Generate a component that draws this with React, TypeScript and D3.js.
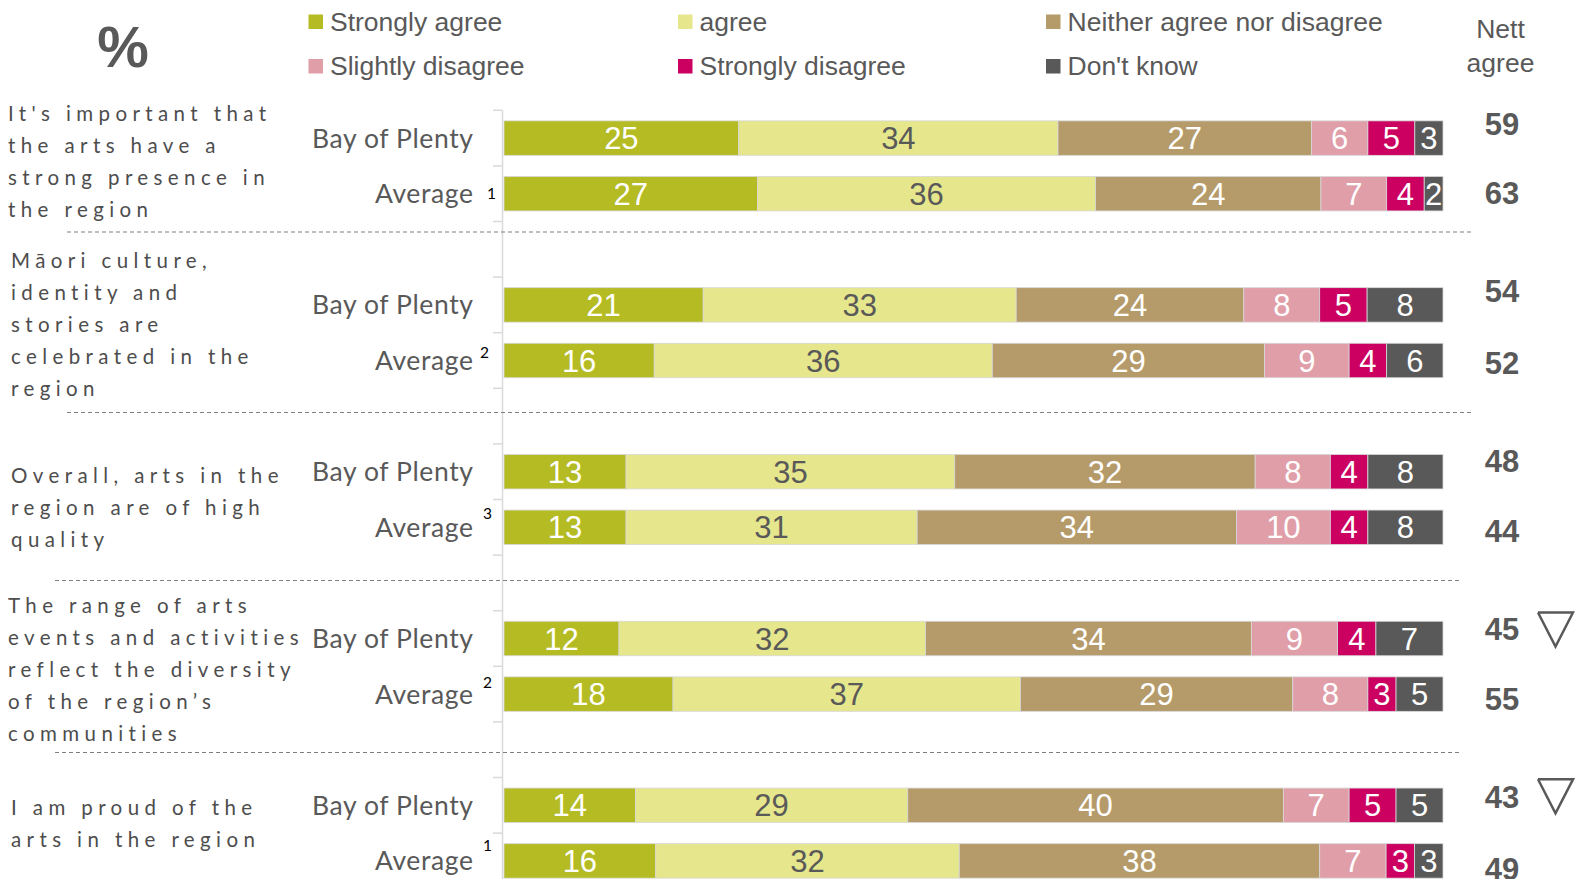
import React from "react";
import * as d3 from "d3";

const categories = ["Strongly agree", "agree", "Neither agree nor disagree", "Slightly disagree", "Strongly disagree", "Don't know"];
const colors = ["#b5bb23", "#e6e68c", "#b59b6a", "#e09ea9", "#cc0060", "#595959"];
const valueColors = ["#ffffff", "#595959", "#ffffff", "#ffffff", "#ffffff", "#ffffff"];

const statements = [
  ["It's important that", "the arts have a", "strong presence in", "the region"],
  ["Māori culture,", "identity and", "stories are", "celebrated in the", "region"],
  ["Overall, arts in the", "region are of high", "quality"],
  ["The range of arts", "events and activities", "reflect the diversity", "of the region’s", "communities"],
  ["I am proud of the", "arts in the region"],
];
const rowNames = ["Bay of Plenty", "Average"];
const footnotes = ["1", "2", "3", "2", "1"];

const bopValues = [
  [25, 34, 27, 6, 5, 3],
  [21, 33, 24, 8, 5, 8],
  [13, 35, 32, 8, 4, 8],
  [12, 32, 34, 9, 4, 7],
  [14, 29, 40, 7, 5, 5],
];
const avgValues = [
  [27, 36, 24, 7, 4, 2],
  [16, 36, 29, 9, 4, 6],
  [13, 31, 34, 10, 4, 8],
  [18, 37, 29, 8, 3, 5],
  [16, 32, 38, 7, 3, 3],
];
const bopNett = [59, 54, 48, 45, 43];
const avgNett = [63, 52, 44, 55, 49];
const bopLower = [false, false, false, true, true];

// layout
const W = 1575;
const H = 879;
const barX0 = 504;
const barX1 = 1443;
const statementX = [8, 11, 11, 8, 11];
const statementY0 = [121, 268, 483, 613, 815];
const supX = [487, 480, 483, 483, 483];
const supDy = [-5, -13, -18, -16, -20];
const nettDyBop = [-14.5, -14, -10.5, -10, -8];
const nettDyAvg = [-0.5, 2, 4, 5, 8];
const sepLines = [
  { y: 232, x0: 67, x1: 1473 },
  { y: 412.5, x0: 67, x1: 1473 },
  { y: 580.5, x0: 55, x1: 1462 },
  { y: 752.5, x0: 55, x1: 1462 },
];

const GRAY = "#595959";
const ARIAL = "'Liberation Sans', Arial, sans-serif";
const CAL = "Lato, 'Open Sans', sans-serif";

export default function App() {
  const slots: string[] = [];
  statements.forEach((_, g) => {
    slots.push(`b${g}`, `a${g}`, `s${g}`);
  });
  const step = 55.6;
  const y = d3
    .scaleBand<string>()
    .domain(slots)
    .range([110.3, 110.3 + slots.length * step])
    .paddingInner(0.38)
    .paddingOuter(0.19);
  const bw = y.bandwidth();

  const rows: { key: string; values: number[]; nett: number; g: number; kind: number }[] = [];
  statements.forEach((_, g) => {
    rows.push({ key: `b${g}`, values: bopValues[g], nett: bopNett[g], g, kind: 0 });
    rows.push({ key: `a${g}`, values: avgValues[g], nett: avgNett[g], g, kind: 1 });
  });

  const legendPos = [
    { x: 308.5, y: 30.5 },
    { x: 678, y: 30.5 },
    { x: 1046, y: 30.5 },
    { x: 308.5, y: 75 },
    { x: 678, y: 75 },
    { x: 1046, y: 75 },
  ];

  return (
    <svg width={W} height={H} style={{ position: "absolute", left: 0, top: 0, background: "#fff" }}>
      {/* percent sign */}
      <text x={123} y={67} textAnchor="middle" fontFamily={ARIAL} fontSize={58} fontWeight="bold" fill={GRAY}>
        %
      </text>
      {/* legend */}
      {categories.map((c, i) => (
        <g key={c}>
          <rect x={legendPos[i].x} y={legendPos[i].y - 16} width={14.5} height={14.5} fill={colors[i]} />
          <text x={legendPos[i].x + 21.5} y={legendPos[i].y} fontFamily={ARIAL} fontSize={26.5} fill={GRAY}>
            {c}
          </text>
        </g>
      ))}
      <text x={1500.5} y={37.5} textAnchor="middle" fontFamily={ARIAL} fontSize={26.5} fill={GRAY}>
        Nett
      </text>
      <text x={1500.5} y={72} textAnchor="middle" fontFamily={ARIAL} fontSize={26.5} fill={GRAY}>
        agree
      </text>

      {/* axis */}
      <line x1={502.5} x2={502.5} y1={110.3} y2={H} stroke="#d9d9d9" strokeWidth={1.5} />
      {slots.map((s) => {
        const t = (y(s) as number) - (y.step() * 0.38) / 2;
        return <line key={s} x1={493} x2={502.5} y1={t} y2={t} stroke="#d9d9d9" strokeWidth={1.5} />;
      })}

      {/* separators */}
      {sepLines.map((l, i) => (
        <line key={i} x1={l.x0} x2={l.x1} y1={l.y} y2={l.y} stroke="#7f7f7f" strokeWidth={1.2} strokeDasharray="4 3" />
      ))}

      {/* statements */}
      {statements.map((lines, g) => (
        <text key={g} fontFamily={CAL} fontSize={20.5} letterSpacing={5.4} fill="#4d4d4d">
          {lines.map((ln, j) => (
            <tspan key={j} x={statementX[g]} y={statementY0[g] + j * 32}>
              {ln}
            </tspan>
          ))}
        </text>
      ))}

      {/* bars */}
      {rows.map((r) => {
        const total = d3.sum(r.values);
        const x = d3.scaleLinear().domain([0, total]).range([barX0, barX1]);
        const cum = d3.cumsum(r.values);
        const yTop = y(r.key) as number;
        const cy = yTop + bw / 2;
        return (
          <g key={r.key}>
            {r.values.map((v, i) => {
              const a = x(cum[i] - v);
              const b = x(cum[i]);
              return (
                <g key={i}>
                  <rect x={a} y={yTop} width={b - a} height={bw} fill={colors[i]} stroke="#d8d8d8" strokeWidth={0.8} />
                  <text
                    x={(a + b) / 2}
                    y={cy}
                    dy="0.36em"
                    textAnchor="middle"
                    fontFamily={ARIAL}
                    fontSize={31}
                    fill={valueColors[i]}
                  >
                    {v}
                  </text>
                </g>
              );
            })}
            <text
              x={473.5}
              y={cy}
              dy="0.36em"
              textAnchor="end"
              fontFamily={CAL}
              fontSize={26.5}
              letterSpacing={0.6}
              fill={GRAY}
            >
              {rowNames[r.kind]}
            </text>
            {r.kind === 1 && (
              <text x={supX[r.g]} y={cy + 10 + supDy[r.g]} fontFamily={CAL} fontSize={15.5} fill="#000">
                {footnotes[r.g]}
              </text>
            )}
            <text
              x={1502}
              y={cy + (r.kind === 0 ? nettDyBop[r.g] : nettDyAvg[r.g])}
              dy="0.36em"
              textAnchor="middle"
              fontFamily={ARIAL}
              fontSize={31}
              fontWeight="bold"
              fill={GRAY}
            >
              {r.nett}
            </text>
            {r.kind === 0 && bopLower[r.g] && (
              <path
                d={d3.line()([
                  [1538, cy - 26],
                  [1573, cy - 26],
                  [1555.5, cy + 8],
                  [1538, cy - 26],
                ]) as string}
                fill="none"
                stroke={GRAY}
                strokeWidth={2.5}
                strokeLinejoin="miter"
              />
            )}
          </g>
        );
      })}
    </svg>
  );
}
